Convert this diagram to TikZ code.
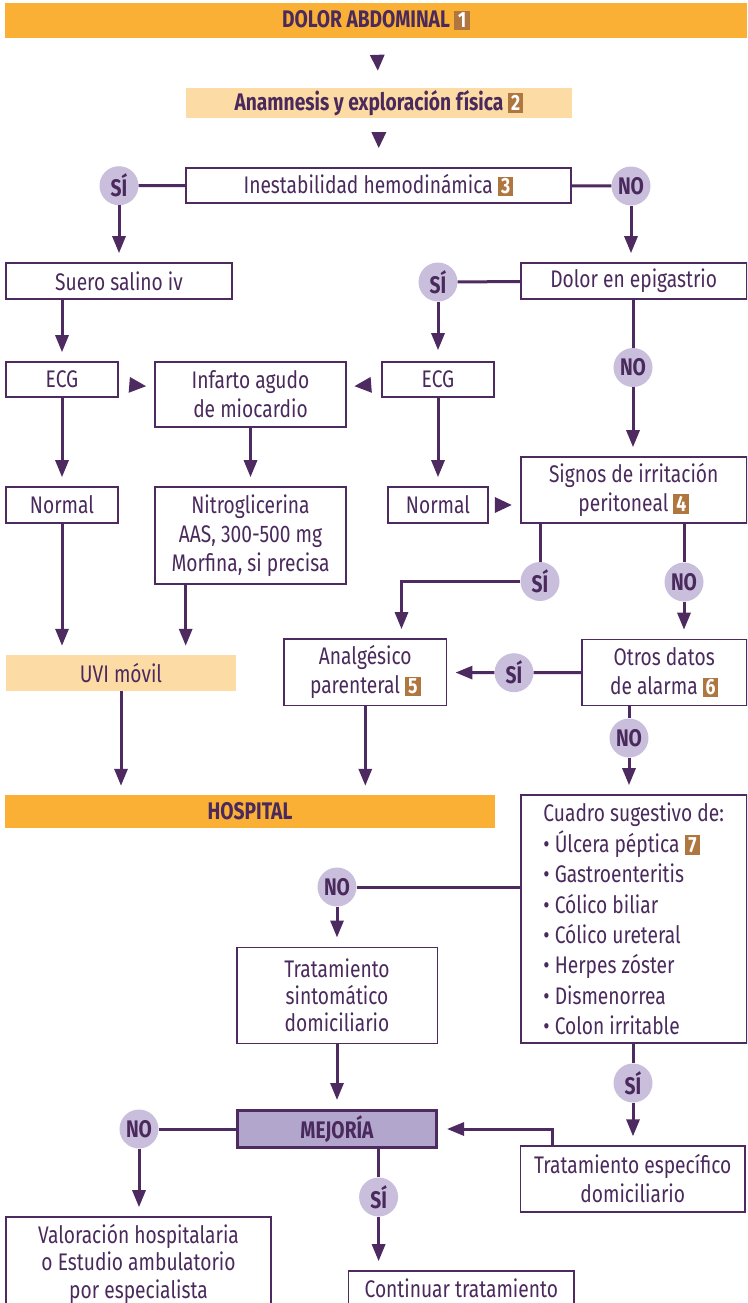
\documentclass[tikz,border=0pt]{standalone}
\usepackage{fontspec}
\setmainfont{Fira Sans}[FakeStretch=0.8]
\usetikzlibrary{arrows.meta,calc}

\definecolor{ink}{HTML}{4A2A5C}
\definecolor{lineC}{HTML}{4D2A60}
\definecolor{orangeC}{HTML}{F9B034}
\definecolor{peach}{HTML}{FDDBA5}
\definecolor{lav}{HTML}{C9BFDD}
\definecolor{mejC}{HTML}{B3A6CD}
\definecolor{badgeC}{HTML}{B0763F}

\newcommand\bodyfont{\fontsize{24}{29}\selectfont}
\newcommand\numbadge[1]{{\setlength{\fboxsep}{2pt}\colorbox{badgeC}{\makebox[11.5pt]{\rule[-0.5pt]{0pt}{15pt}\color{white}\bfseries\fontsize{22}{22}\selectfont #1}}}}

\tikzset{
  box/.style={draw=lineC, line width=1.6pt, fill=white, text=ink, align=center,
              inner sep=0pt, font=\bodyfont},
  band/.style={fill=orangeC, text=ink, inner sep=0pt, font=\bodyfont\bfseries},
  soft/.style={fill=peach, text=ink, inner sep=0pt, align=center, font=\bodyfont},
  yn/.style={circle, fill=lav, text=ink, minimum size=39pt, inner sep=0pt,
             font=\bodyfont\bfseries},
  flow/.style={draw=lineC, line width=3pt},
  arr/.style={flow, -{Triangle[width=13pt,length=17pt]}, shorten >=9pt},
  headonly/.style={flow, -{Triangle[width=15pt,length=17pt]}},
}

\begin{document}
\begin{tikzpicture}[x=1pt, y=-1pt]
\useasboundingbox (0,0) rectangle (747,1303);
\clip (0,0) rectangle (747,1303);

% header and first questions
\node[band, minimum width=742pt, minimum height=35pt] (title) at (376,20.5)
  {DOLOR ABDOMINAL \numbadge{1}};
\node[soft, font=\bodyfont\bfseries, minimum width=386pt, minimum height=30pt] (anam) at (379,103)
  {Anamnesis y exploración física \numbadge{2}};
\node[box, minimum width=385pt, minimum height=35pt] (inest) at (378.5,185.5)
  {Inestabilidad hemodinámica \numbadge{3}};
\node[yn] (si1) at (119,185.7) {SÍ};
\node[yn] (no1) at (631,186) {NO};

% unstable branch
\node[box, minimum width=226pt, minimum height=36pt] (suero) at (119,281) {Suero salino iv};
\node[box, minimum width=112pt, minimum height=35pt] (ecg1) at (62,379.5) {ECG};
\node[box, minimum width=191pt, minimum height=65pt] (inf) at (250.5,394.5)
  {Infarto agudo\\de miocardio};
\node[box, minimum width=112pt, minimum height=36pt] (normal1) at (62,505) {Normal};
\node[box, minimum width=191pt, minimum height=97pt] (nitro) at (250.5,535.5)
  {Nitroglicerina\\AAS, 300-500 mg\\Morfina, si precisa};
\node[soft, minimum width=230pt, minimum height=36pt] (uvi) at (121,673) {UVI móvil};

% stable branch
\node[box, minimum width=226pt, minimum height=36pt] (dolor) at (633.7,281) {Dolor en epigastrio};
\node[yn] (si2) at (438,282) {SÍ};
\node[box, minimum width=112pt, minimum height=35pt] (ecg2) at (438,379.5) {ECG};
\node[yn] (no2) at (633,367.5) {NO};
\node[box, minimum width=100pt, minimum height=36pt] (normal2) at (438,505) {Normal};
\node[box, minimum width=226pt, minimum height=66pt] (signos) at (633.7,490)
  {Signos de irritación\\peritoneal \numbadge{4}};
\node[yn] (si3) at (540,581.5) {SÍ};
\node[yn] (no3) at (684,582) {NO};
\node[box, minimum width=162.7pt, minimum height=66.7pt] (analg) at (365.3,672.3)
  {Analgésico\\parenteral \numbadge{5}};
\node[box, minimum width=165pt, minimum height=66pt] (otros) at (664.2,672.5)
  {Otros datos\\de alarma \numbadge{6}};
\node[yn] (si4) at (514,672.7) {SÍ};
\node[yn] (no6) at (629,738) {NO};
\node[band, minimum width=490pt, minimum height=33pt] (hosp) at (250,811.5) {HOSPITAL};
\node[box, align=left, font=\fontsize{24}{30.4}\selectfont, minimum width=226pt, minimum height=248pt] (cuadro) at (633.7,919)
  {Cuadro sugestivo de:\\
   \textbullet\ Úlcera péptica \numbadge{7}\\
   \textbullet\ Gastroenteritis\\
   \textbullet\ Cólico biliar\\
   \textbullet\ Cólico ureteral\\
   \textbullet\ Herpes zóster\\
   \textbullet\ Dismenorrea\\
   \textbullet\ Colon irritable};

% home treatment and follow-up
\node[yn] (no4) at (337,887) {NO};
\node[box, font=\fontsize{24}{27}\selectfont, minimum width=200.6pt, minimum height=96pt] (tsint) at (337,995.3)
  {Tratamiento\\sintomático\\domiciliario};
\node[yn] (si5) at (633,1083) {SÍ};
\node[draw=lineC, line width=3pt, fill=mejC, text=ink, inner sep=0pt, font=\bodyfont\bfseries,
      minimum width=199pt, minimum height=37pt] (mej) at (337,1129) {MEJORÍA};
\node[box, minimum width=224.5pt, minimum height=65.7pt] (tesp) at (632.7,1179)
  {Tratamiento específico\\domiciliario};
\node[yn] (no5) at (139,1129) {NO};
\node[box, font=\fontsize{24}{27.5}\selectfont, minimum width=265pt, minimum height=93pt] (valor) at (138.5,1263.5)
  {Valoración hospitalaria\\o Estudio ambulatorio\\por especialista};
\node[yn] (si6) at (378.6,1197) {SÍ};
\node[box, minimum width=225.4pt, minimum height=34pt] (cont) at (461.3,1288)
  {Continuar tratamiento};

% bare arrowheads between neighbouring boxes
\draw[headonly, -{Triangle[width=14pt,length=16pt]}, shorten <=17pt, shorten >=17pt] (title) -- (anam);
\draw[headonly, -{Triangle[width=14pt,length=16pt]}, shorten <=15pt, shorten >=19pt] (anam) -- (inest);
\draw[headonly, shorten <=12pt, shorten >=8pt] (ecg1) -- (inf);
\draw[headonly, shorten <=11pt, shorten >=7.5pt] (ecg2) -- (inf);
\draw[headonly, shorten <=7pt, shorten >=8pt] (normal2) -- (signos.west |- normal2);

% connectors
\draw[flow] (si1) -- (inest);
\draw[flow] (inest) -- (no1);
\draw[arr] (si1) -- (suero);
\draw[arr] (no1) -- (no1 |- dolor.north);
\draw[flow] (dolor) -- (si2);
\draw[arr, shorten >=11pt] (si2) -- (ecg2);
\draw[flow] (dolor.south -| no2) -- (no2);
\draw[arr] (no2) -- (no2 |- signos.north);
\draw[arr] (suero.south -| ecg1) -- (ecg1);
\draw[arr] (ecg1) -- (normal1);
\draw[arr] (inf) -- (nitro);
\draw[arr] (ecg2) -- (normal2);
\draw[arr] (normal1) -- (normal1 |- uvi.north);
\coordinate (nitroOut) at ([xshift=-64.8pt]nitro.south);
\draw[arr] (nitroOut) -- (nitroOut |- uvi.north);
\draw[flow] (signos.south -| si3) -- (si3);
\coordinate (bend3) at (401.5,581.5);
\draw[arr] (si3) -- (bend3) -- (bend3 |- analg.north);
\draw[flow] (signos.south -| no3) -- (no3);
\draw[arr] (no3) -- (no3 |- otros.north);
\draw[flow] (otros) -- (si4);
\draw[arr, shorten >=8pt] (si4) -- (analg);
\draw[flow] (otros.south -| no6) -- (no6);
\draw[arr] (no6) -- (no6 |- cuadro.north);
\draw[arr] (uvi) -- (uvi |- hosp.north);
\draw[arr] (analg) -- (analg |- hosp.north);
\draw[flow] (cuadro.west |- no4) -- (no4);
\draw[arr] (no4) -- (tsint);
\draw[arr] (tsint) -- (mej);
\draw[flow] (cuadro.south -| si5) -- (si5);
\draw[arr] (si5) -- (si5 |- tesp.north);
\coordinate (bendE) at (552,1129);
\draw[arr] (tesp.north -| bendE) -- (bendE) -- (mej);
\draw[flow] (mej) -- (no5);
\draw[arr] (no5) -- (no5 |- valor.north);
\draw[flow] (mej.south -| si6) -- (si6);
\draw[arr] (si6) -- (si6 |- cont.north);
\end{tikzpicture}
\end{document}
